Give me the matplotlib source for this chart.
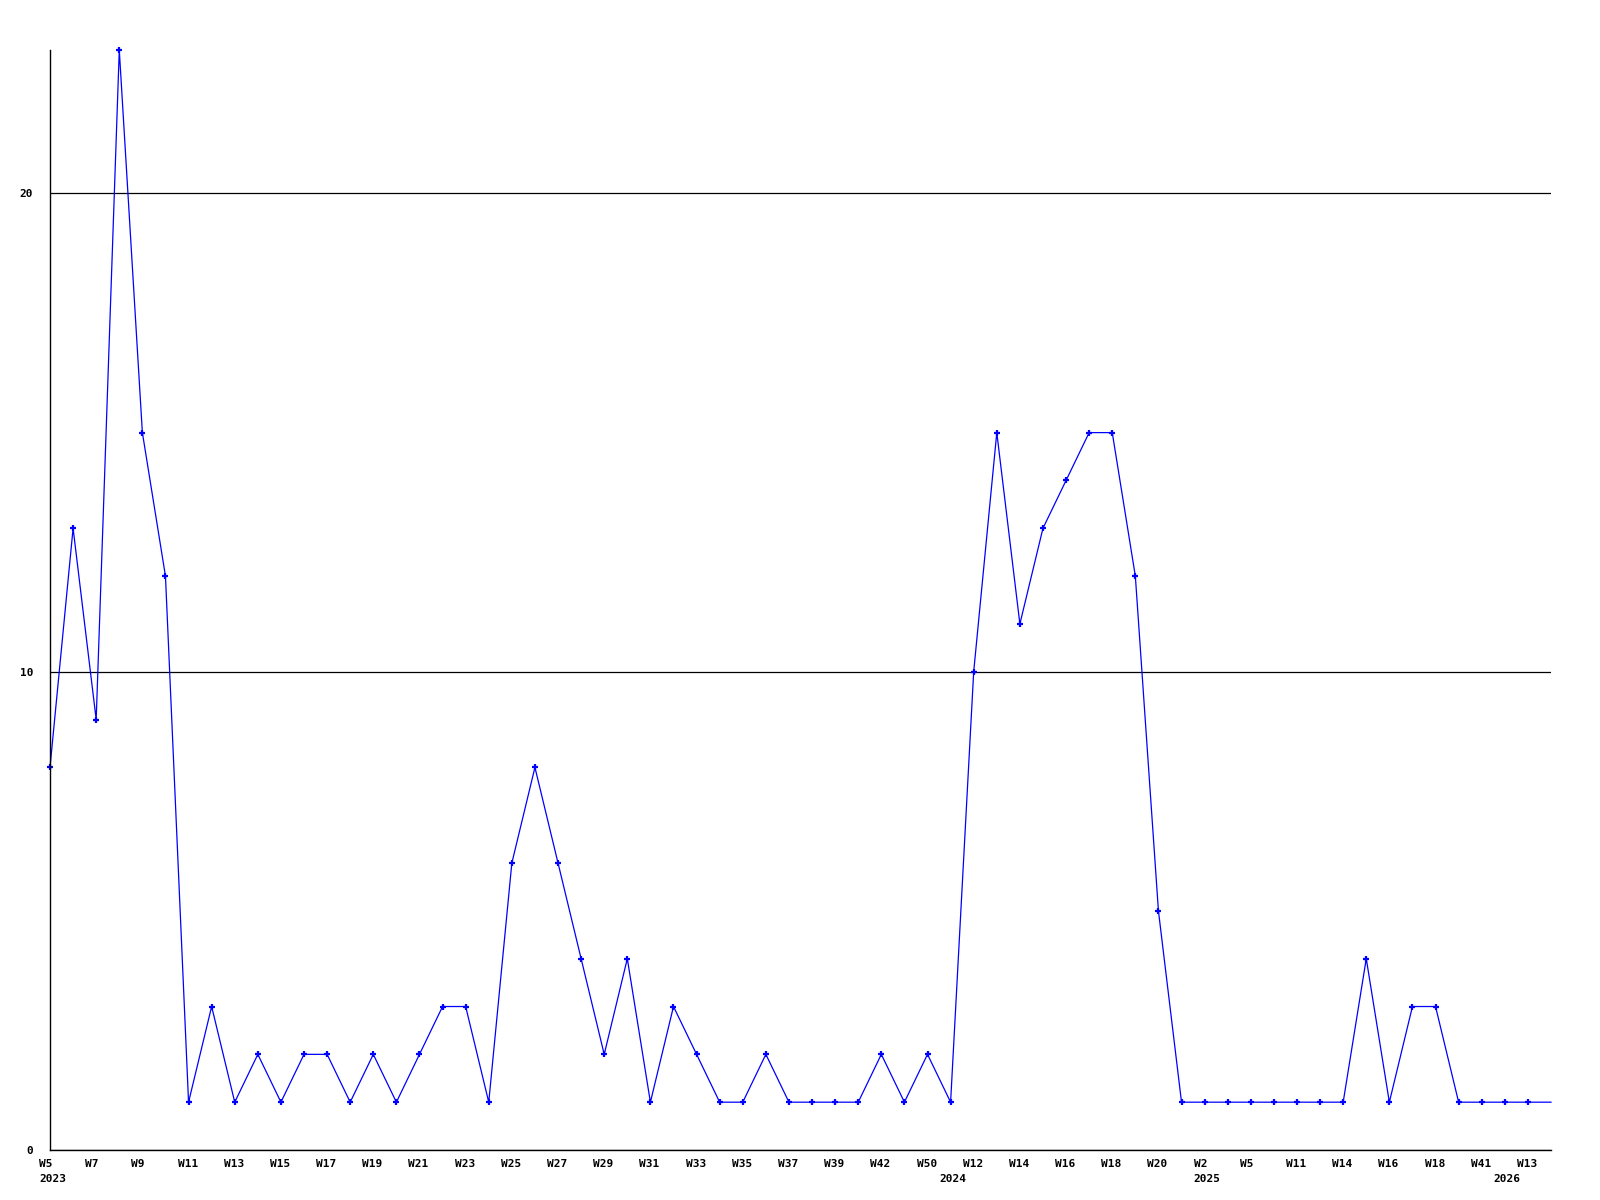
import matplotlib
matplotlib.use('Agg')
import matplotlib.pyplot as plt

# weekly counts, one point per week shown on the x axis
weeks = ['W5', 'W6', 'W7', 'W8', 'W9', 'W10', 'W11', 'W12', 'W13', 'W14',
         'W15', 'W16', 'W17', 'W18', 'W19', 'W20', 'W21', 'W22', 'W23', 'W24',
         'W25', 'W26', 'W27', 'W28', 'W29', 'W30', 'W31', 'W32', 'W33', 'W34',
         'W35', 'W36', 'W37', 'W38', 'W39', 'W40', 'W42', 'W45', 'W50', 'W11',
         'W12', 'W13', 'W14', 'W15', 'W16', 'W17', 'W18', 'W19', 'W20', 'W22',
         'W2', 'W4', 'W5', 'W8', 'W11', 'W12', 'W14', 'W15', 'W16', 'W17',
         'W18', 'W20', 'W41', 'W11', 'W13', 'W14']
years = {0: '2023', 39: '2024', 50: '2025', 63: '2026'}
counts = [8, 13, 9, 23, 15, 12, 1, 3, 1, 2,
          1, 2, 2, 1, 2, 1, 2, 3, 3, 1,
          6, 8, 6, 4, 2, 4, 1, 3, 2, 1,
          1, 2, 1, 1, 1, 1, 2, 1, 2, 1,
          10, 15, 11, 13, 14, 15, 15, 12, 5, 1,
          1, 1, 1, 1, 1, 1, 1, 4, 1, 3,
          3, 1, 1, 1, 1, 1]

font = dict(family='DejaVu Sans Mono', fontweight='bold', fontsize=8)

fig = plt.figure(figsize=(16, 12), dpi=100)
ax = fig.add_axes([50 / 1600, 50 / 1200, 1501 / 1600, 1100 / 1200])

x = list(range(len(counts)))
ax.plot(x, counts, color='#0000ff', linewidth=0.9, marker='+',
        markersize=4, markeredgewidth=1.6, clip_on=False,
        markevery=list(range(len(counts) - 1)))

ax.set_xlim(0, len(counts) - 1)
ax.set_ylim(0, 23)

for s in ['top', 'right']:
    ax.spines[s].set_visible(False)
for s in ['left', 'bottom']:
    ax.spines[s].set_color('black')
    ax.spines[s].set_linewidth(1.0)

ax.set_yticks([0, 10, 20])
ax.set_yticklabels(['0', '10', '20'], **font)
ax.tick_params(axis='y', length=0, pad=12)
ax.yaxis.grid(True, color='black', linewidth=0.9)
ax.set_axisbelow(True)

ax.set_xticks([])
for i in range(0, len(weeks) - 1, 2):
    ax.annotate(weeks[i], xy=(i, 0), xycoords=('data', 'axes fraction'),
                xytext=(-11, -9), textcoords='offset pixels',
                ha='left', va='top', annotation_clip=False, **font)
for i, yr in years.items():
    ax.annotate(yr, xy=(i, 0), xycoords=('data', 'axes fraction'),
                xytext=(-11, -24), textcoords='offset pixels',
                ha='left', va='top', annotation_clip=False, **font)

plt.savefig('out.png', dpi=100)
